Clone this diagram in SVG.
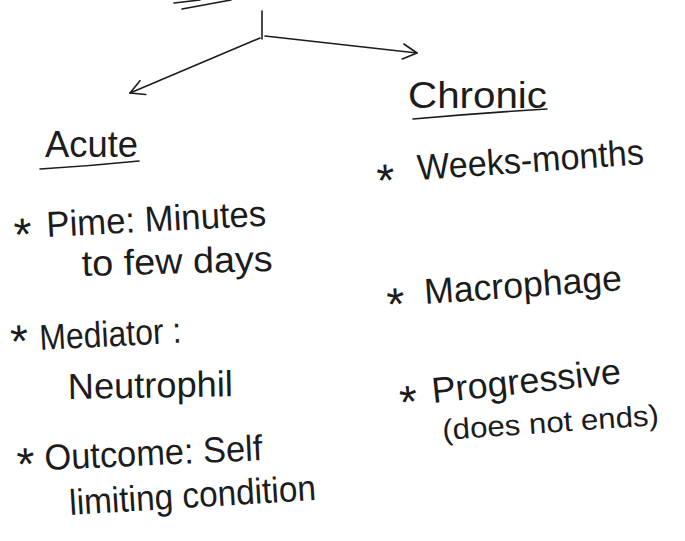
<svg xmlns="http://www.w3.org/2000/svg" width="685" height="541" viewBox="0 0 685 541">
<style>
.t{font-family:"Liberation Sans","Noto Sans",sans-serif;font-size:36px;fill:#1c1c1c}
.s{font-size:29px}
.a{font-size:46px}
.ln{stroke:#1c1c1c;stroke-width:1.6;fill:none;stroke-linecap:round}
</style>
<defs>
<marker id="arr" viewBox="0 0 17 17" refX="15" refY="8.5" markerWidth="17" markerHeight="17" markerUnits="userSpaceOnUse" orient="auto">
<path d="M1,1 L15,8.5 L1,16" fill="none" stroke="#1c1c1c" stroke-width="1.6" stroke-linecap="round" stroke-linejoin="round"/>
</marker>
</defs>
<rect width="685" height="541" fill="#ffffff"/>
<g id="title-underline">
<path class="ln" d="M182,9 L231,0"/>
<path class="ln" d="M174,3 L200,0"/>
</g>
<g id="connectors">
<path class="ln" d="M262,11 L262,39"/>
<path class="ln" d="M265,36 L417,53" marker-end="url(#arr)"/>
<path class="ln" d="M260,38 L130,93" marker-end="url(#arr)"/>
</g>
<g id="node-acute">
<text class="t" x="45" y="157" textLength="93" lengthAdjust="spacingAndGlyphs">Acute</text>
<path class="ln" d="M40,169 Q90,166 139,161"/>
</g>
<g id="node-chronic">
<text class="t" x="408" y="108" textLength="139" lengthAdjust="spacingAndGlyphs">Chronic</text>
<path class="ln" d="M413,119 Q480,113 547,109"/>
</g>
<g id="acute-time">
<text class="t" transform="rotate(-3,47,237)"><tspan class="a" x="14" y="249">*</tspan> <tspan x="47" y="237" textLength="220" lengthAdjust="spacingAndGlyphs">Pime: Minutes</tspan></text>
<text class="t" x="82" y="276" textLength="191" lengthAdjust="spacingAndGlyphs" transform="rotate(-1.5,82,276)">to few days</text>
</g>
<g id="acute-mediator">
<text class="t" transform="rotate(-3,40,350)"><tspan class="a" x="11" y="356">*</tspan> <tspan x="40" y="350" textLength="142" lengthAdjust="spacingAndGlyphs">Mediator :</tspan></text>
<text class="t" x="68" y="399" textLength="165" lengthAdjust="spacingAndGlyphs" transform="rotate(-1,68,399)">Neutrophil</text>
</g>
<g id="acute-outcome">
<text class="t" transform="rotate(-2.6,45,470)"><tspan class="a" x="17" y="479">*</tspan> <tspan x="45" y="470" textLength="218" lengthAdjust="spacingAndGlyphs">Outcome: Self</tspan></text>
<text class="t" x="70" y="515" textLength="247" lengthAdjust="spacingAndGlyphs" transform="rotate(-3.5,70,515)">limiting condition</text>
</g>
<g id="chronic-time">
<text class="t" transform="rotate(-4,418,180)"><tspan class="a" x="377" y="194">*</tspan> <tspan x="418" y="180" textLength="227" lengthAdjust="spacingAndGlyphs">Weeks-months</tspan></text>
</g>
<g id="chronic-mediator">
<text class="t" transform="rotate(-4,425,304)"><tspan class="a" x="387" y="318">*</tspan> <tspan x="425" y="304" textLength="198" lengthAdjust="spacingAndGlyphs">Macrophage</tspan></text>
</g>
<g id="chronic-outcome">
<text class="t" transform="rotate(-6,433,403)"><tspan class="a" x="400" y="415">*</tspan> <tspan x="433" y="403" textLength="190" lengthAdjust="spacingAndGlyphs">Progressive</tspan></text>
<text class="t s" x="443" y="440" textLength="217" lengthAdjust="spacingAndGlyphs" transform="rotate(-4,443,440)">(does not ends)</text>
</g>
</svg>
